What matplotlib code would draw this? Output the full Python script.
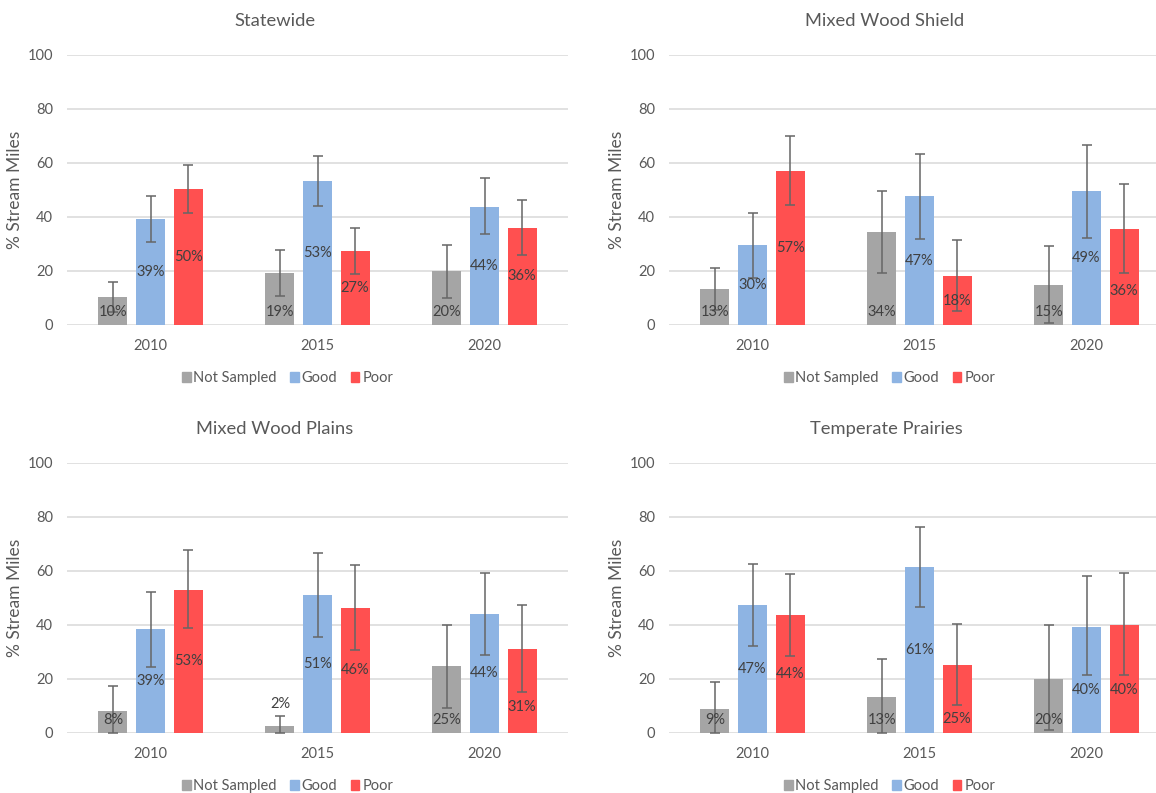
import matplotlib.pyplot as plt
from matplotlib.patches import Patch
import numpy as np

plt.rcParams['font.family'] = ['Lato', 'DejaVu Sans']

years = ["2010", "2015", "2020"]
classes = ["Not Sampled", "Good", "Poor"]
colors = ["#a5a5a5", "#8eb4e3", "#ff5050"]

# percent of stream miles, per region: rows = class, cols = year
statewide = [[10, 19, 20], [39, 53, 44], [50, 27, 36]]
statewide_lo = [[5.0, 10.9, 10.0], [30.9, 44.2, 33.8], [41.5, 18.8, 25.9]]
statewide_hi = [[15.8, 27.7, 29.8], [47.9, 62.5, 54.3], [59.3, 36.0, 46.2]]

shield = [[13, 34, 15], [30, 47, 49], [57, 18, 36]]
shield_lo = [[5.4, 19.3, 0.9], [17.4, 31.9, 32.3], [44.4, 5.1, 19.1]]
shield_hi = [[21.2, 49.8, 29.3], [41.4, 63.2, 66.5], [69.9, 31.4, 52.2]]

plains = [[8, 2, 25], [39, 51, 44], [53, 46, 31]]
plains_lo = [[0.0, 0.0, 9.3], [24.4, 35.6, 29.0], [38.8, 30.6, 15.2]]
plains_hi = [[17.5, 6.2, 40.0], [52.3, 66.5, 59.3], [67.7, 62.1, 47.3]]

prairies = [[9, 13, 20], [47, 61, 40], [44, 25, 40]]
prairies_lo = [[0.0, 0.0, 1.0], [32.3, 46.7, 21.4], [28.5, 10.4, 21.4]]
prairies_hi = [[18.9, 27.4, 39.9], [62.5, 76.3, 58.1], [58.9, 40.5, 59.1]]

# bar heights (labels show rounded values)
statewide_bar = [[10.4, 19.3, 19.9], [39.3, 53.2, 43.8], [50.2, 27.4, 36.0]]
shield_bar = [[13.3, 34.4, 14.9], [29.8, 47.7, 49.5], [57.2, 18.0, 35.6]]
plains_bar = [[8.1, 2.5, 24.7], [38.5, 51.1, 44.1], [53.1, 46.3, 31.1]]
prairies_bar = [[8.9, 13.5, 20.1], [47.4, 61.5, 39.4], [43.8, 25.2, 40.1]]

panels = [
    ("Statewide", statewide, statewide_bar, statewide_lo, statewide_hi),
    ("Mixed Wood Shield", shield, shield_bar, shield_lo, shield_hi),
    ("Mixed Wood Plains", plains, plains_bar, plains_lo, plains_hi),
    ("Temperate Prairies", prairies, prairies_bar, prairies_lo, prairies_hi),
]

# labels that were dragged away from the bar centre in the original
label_moves = {
    ("Mixed Wood Shield", 2, 2): 12.5,
    ("Mixed Wood Plains", 2, 2): 9.5,
    ("Temperate Prairies", 2, 1): 5.2,
    ("Temperate Prairies", 1, 2): 15.8,
    ("Temperate Prairies", 2, 2): 15.8,
}

fig = plt.figure(figsize=(11.56, 7.93), dpi=100)
W, H = 1156, 793
ax_boxes = [(67, 325), (669, 325), (67, 733), (669, 733)]
title_pos = [(275, 21), (885, 21), (275, 429), (886, 429)]

text_col = "#595959"
label_col = "#404040"
fs = 10.5
x = np.arange(len(years))
bw = 0.174
step = 0.225

for (title, vals, bars, lo, hi), (px, py), (tx, ty) in zip(panels, ax_boxes, title_pos):
    ax = fig.add_axes([px / W, (H - py) / H, 501 / W, 270 / H])
    for i, cls in enumerate(classes):
        xs = x + (i - 1) * step
        h = np.array(bars[i])
        err = [h - np.array(lo[i]), np.array(hi[i]) - h]
        ax.bar(xs, h, bw, color=colors[i], zorder=2)
        ax.errorbar(xs, h, yerr=err, fmt='none', ecolor="#666666",
                    elinewidth=1.1, capsize=3.5, capthick=1.1, zorder=3)
        for j in range(len(years)):
            txt = f"{vals[i][j]}%"
            key = (title, i, j)
            if key in label_moves:
                ax.text(xs[j], label_moves[key], txt, ha='center', va='center',
                        fontsize=fs, color=label_col, zorder=4)
            elif i == 0 and h[j] < 5:
                ax.text(xs[j], hi[i][j] + 2.0, txt, ha='center', va='bottom',
                        fontsize=fs, color=label_col, zorder=4)
            elif i == 0:
                ax.text(xs[j], 5, txt, ha='center', va='center',
                        fontsize=fs, color=label_col, zorder=4)
            else:
                ax.text(xs[j], h[j] / 2, txt, ha='center', va='center',
                        fontsize=fs, color=label_col, zorder=4)

    ax.set_xlim(-0.5, 2.5)
    ax.set_ylim(0, 100)
    ax.set_yticks(range(0, 101, 20))
    ax.set_xticks(x)
    ax.set_xticklabels(years)
    ax.tick_params(axis='both', length=0, labelsize=fs, colors=text_col)
    ax.tick_params(axis='y', pad=10)
    ax.tick_params(axis='x', pad=10)
    ax.grid(axis='y', color="#d9d9d9", linewidth=1.1, zorder=0)
    ax.set_axisbelow(True)
    for s in ax.spines.values():
        s.set_visible(False)
    ax.set_ylabel("% Stream Miles", fontsize=12.5, color=text_col)
    ax.yaxis.set_label_coords(-0.088, 0.5)

    handles = [Patch(color=c, label=l) for c, l in zip(colors, classes)]
    ax.legend(handles=handles, loc='center', bbox_to_anchor=(0.44, -0.197),
              ncol=3, frameon=False, fontsize=fs, handlelength=0.6,
              handleheight=0.6, handletextpad=0.2, columnspacing=0.9,
              labelcolor=text_col)

    fig.text(tx / W, 1 - ty / H, title, ha='center', va='center',
             fontsize=13.2, color=text_col)

fig.savefig("out.png", dpi=100)
